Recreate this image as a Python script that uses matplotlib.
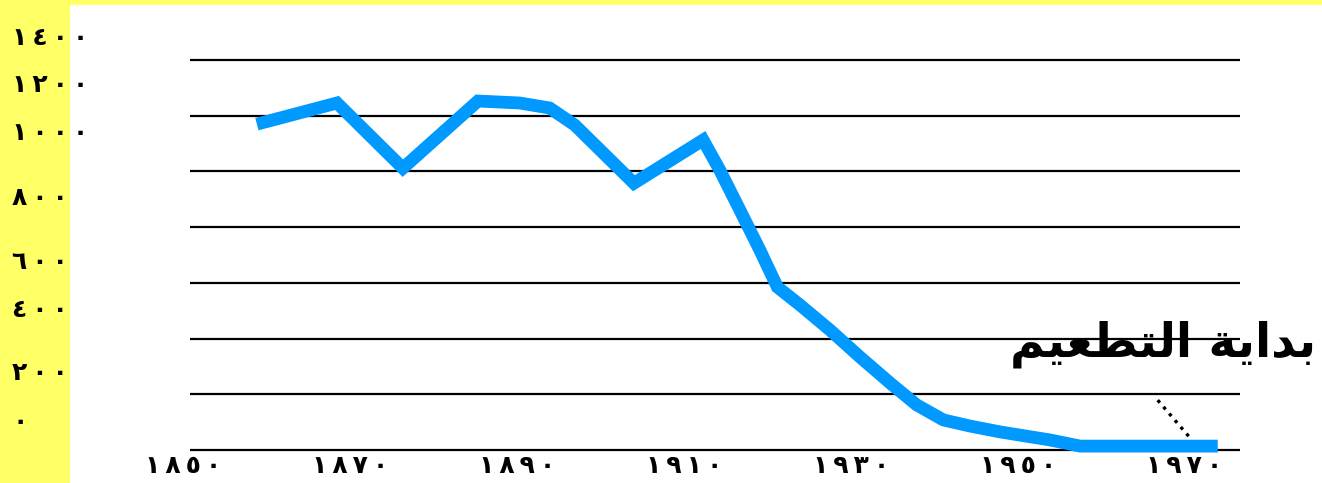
import numpy as np
import matplotlib.pyplot as plt
from matplotlib.patches import Rectangle
from matplotlib.transforms import blended_transform_factory, ScaledTranslation

# deaths per year
years = [1860, 1869.6, 1877.5, 1886.5, 1891.5, 1895.1, 1898.1, 1905.2, 1913.5, 1915.5,
         1917.9, 1920.3, 1922.4, 1925.1, 1928.7, 1932.3, 1935.9, 1939.1, 1942.3, 1945.5,
         1949.1, 1955.1, 1958.7, 1975.2]
deaths = [1170, 1246, 1012, 1253, 1246, 1228, 1167, 958, 1113, 1005,
          862, 718, 585, 521, 431, 334, 241, 162, 108, 86,
          65, 36, 14, 14]

xtick_years = [1850, 1870, 1890, 1910, 1930, 1950, 1970]
ytick_vals = [0, 200, 400, 600, 800, 1000, 1200, 1400]

AR_DIGITS = str.maketrans("0123456789", "٠١٢٣٤٥٦٧٨٩")
def ar(n):
    return "\u2009".join(str(n).translate(AR_DIGITS))

# "بداية التطعيم" pre-shaped (presentation forms), reversed for LTR drawing
logical = "\uFE91\uFEAA\uFE8D\uFEF3\uFE94 \uFE8D\uFEDF\uFE98\uFEC4\uFECC\uFEF4\uFEE2"
label_text = logical[::-1]

YELLOW = "#FFFF66"
BLUE = "#0099FF"

fig = plt.figure(figsize=(13.22, 4.83), dpi=100)
fig.patch.set_facecolor(YELLOW)
fig.patches.append(Rectangle((70/1322, 0), 1, 1 - 5/483, transform=fig.transFigure,
                             facecolor="white", edgecolor="none", zorder=-5))

ax = fig.add_axes([0, 0, 1, 1])
ax.set_zorder(2)
ax.set_facecolor("none")
ax.set_xlim(1829.2, 1987.7)
ax.set_ylim(-118.5, 1615.8)
ax.axis("off")

# gridlines
ax.hlines(ytick_vals, 1851.97, 1977.9, color="black", linewidth=1.6, zorder=1)

ax.plot(years, deaths, color=BLUE, linewidth=9.2, solid_joinstyle="miter",
        solid_capstyle="butt", zorder=3)

# y labels sit a bit above their gridlines in the original (pixel shifts)
label_shift = [28, 21, 29, 21, 29, 38, 31, 22]
for v, dy in zip(ytick_vals, label_shift):
    ytr = blended_transform_factory(fig.transFigure, ax.transData) + \
        ScaledTranslation(0, dy / 100, fig.dpi_scale_trans)
    ax.text(12/1322, v, ar(v), transform=ytr, ha="left", va="center",
            fontsize=18, fontweight="bold", family=["DejaVu Sans"])

# x labels
xtr = blended_transform_factory(ax.transData, fig.transFigure)
for yr in xtick_years:
    ax.text(yr + 1.2, 1 - 466/483, ar(yr), transform=xtr, ha="center", va="center",
            fontsize=18, fontweight="bold", family=["DejaVu Sans"])

# dotted pointer
ax.plot([1968.0, 1972.1], [179, 36], color="black", linestyle=":", linewidth=2.4, zorder=4)

ax.text(1987.0, 380, label_text, ha="right", va="center", fontsize=34,
        fontweight="bold", family=["DejaVu Sans"], zorder=5)

fig.savefig("out.png", dpi=100, facecolor=fig.get_facecolor())
